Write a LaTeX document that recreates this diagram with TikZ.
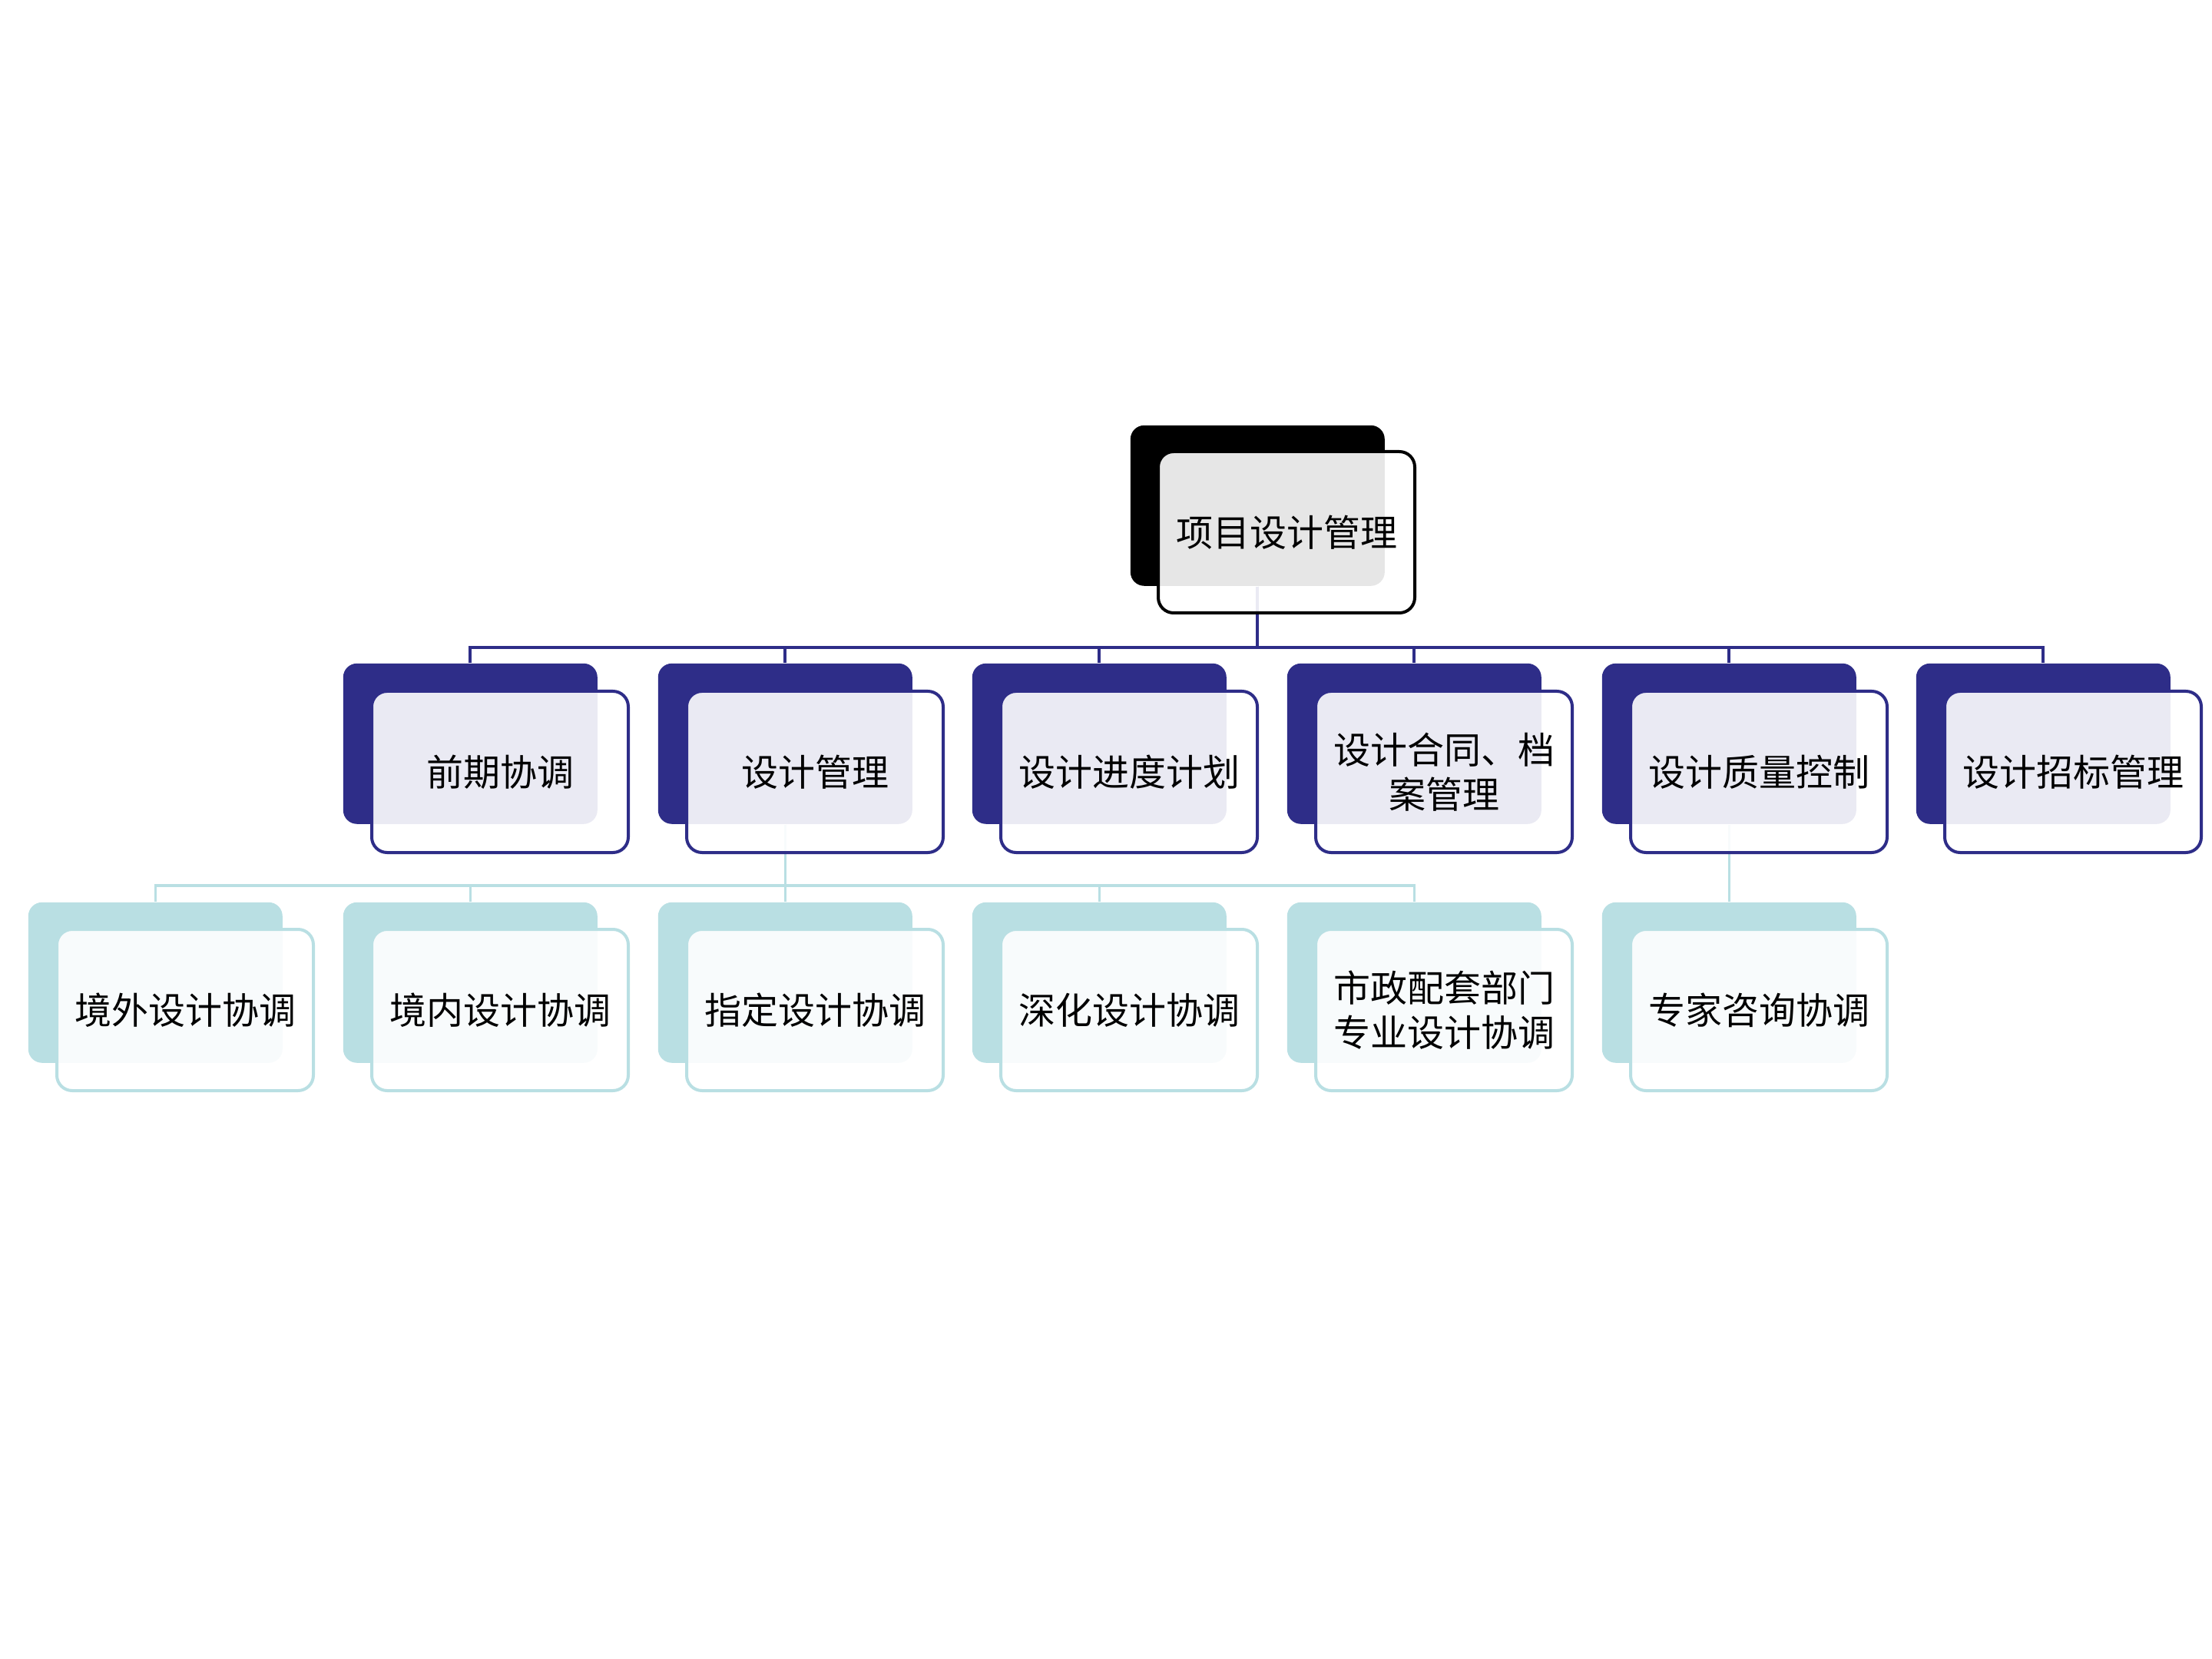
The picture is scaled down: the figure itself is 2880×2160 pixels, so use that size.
\documentclass[tikz,border=0pt]{standalone}
\usepackage{fontspec}
\newfontfamily\cjk{Noto Sans CJK SC}
\usetikzlibrary{backgrounds}
\definecolor{navy}{RGB}{46,45,136}
\definecolor{tealc}{RGB}{185,223,227}
\begin{document}
\begin{tikzpicture}[x=0.25pt,y=-0.25pt,
  backbox/.style={draw=none,fill=#1,rounded corners=4.5pt,minimum width=82.75pt,minimum height=52.25pt,anchor=north west,inner sep=0pt},
  frontbox/.style={draw=#1,line width=1pt,fill=white,fill opacity=0.9,text opacity=1,rounded corners=5pt,minimum width=83.5pt,minimum height=52.5pt,anchor=north west,inner sep=0pt,align=center,font=\cjk\fontsize{12pt}{14.5pt}\selectfont},
  navyline/.style={draw=navy,line width=1pt},
  tealline/.style={draw=tealc,line width=0.9pt}]
\useasboundingbox (0,0) rectangle (2880,2160);
% root
\node[backbox=black] (rb) at (1471,553) {};
\node[frontbox=black] (rf) at (1506,586) {项目设计管理};
% level 1
\node[backbox=navy] (a1b) at (446,863) {};
\node[frontbox=navy] (a1f) at (482,898) {前期协调};
\node[backbox=navy] (a2b) at (856,863) {};
\node[frontbox=navy] (a2f) at (892,898) {设计管理};
\node[backbox=navy] (a3b) at (1265,863) {};
\node[frontbox=navy] (a3f) at (1301,898) {设计进度计划};
\node[backbox=navy] (a4b) at (1675,863) {};
\node[frontbox=navy] (a4f) at (1711,898) {设计合同、档\\案管理};
\node[backbox=navy] (a5b) at (2085,863) {};
\node[frontbox=navy] (a5f) at (2121,898) {设计质量控制};
\node[backbox=navy] (a6b) at (2494,863) {};
\node[frontbox=navy] (a6f) at (2530,898) {设计招标管理};
% level 2
\node[backbox=tealc] (b1b) at (36,1174) {};
\node[frontbox=tealc] (b1f) at (72,1208) {境外设计协调};
\node[backbox=tealc] (b2b) at (446,1174) {};
\node[frontbox=tealc] (b2f) at (482,1208) {境内设计协调};
\node[backbox=tealc] (b3b) at (856,1174) {};
\node[frontbox=tealc] (b3f) at (892,1208) {指定设计协调};
\node[backbox=tealc] (b4b) at (1265,1174) {};
\node[frontbox=tealc] (b4f) at (1301,1208) {深化设计协调};
\node[backbox=tealc] (b5b) at (1675,1174) {};
\node[frontbox=tealc] (b5f) at (1711,1208) {市政配套部门\\专业设计协调};
\node[backbox=tealc] (b6b) at (2085,1174) {};
\node[frontbox=tealc] (b6f) at (2121,1208) {专家咨询协调};
\coordinate (bus1) at (0,843);
\coordinate (bus2) at (0,1153);
\begin{scope}[on background layer]
  \foreach \c in {a1b,a2b,a3b,a4b,a5b,a6b}
    \draw[navyline] (rb.south) -- (rb.south |- bus1) -| (\c.north);
  \foreach \c in {b1b,b2b,b3b,b4b,b5b}
    \draw[tealline] (a2b.south) -- (a2b.south |- bus2) -| (\c.north);
  \draw[tealline] (a5b.south) -- (b6b.north);
\end{scope}
\end{tikzpicture}
\end{document}
